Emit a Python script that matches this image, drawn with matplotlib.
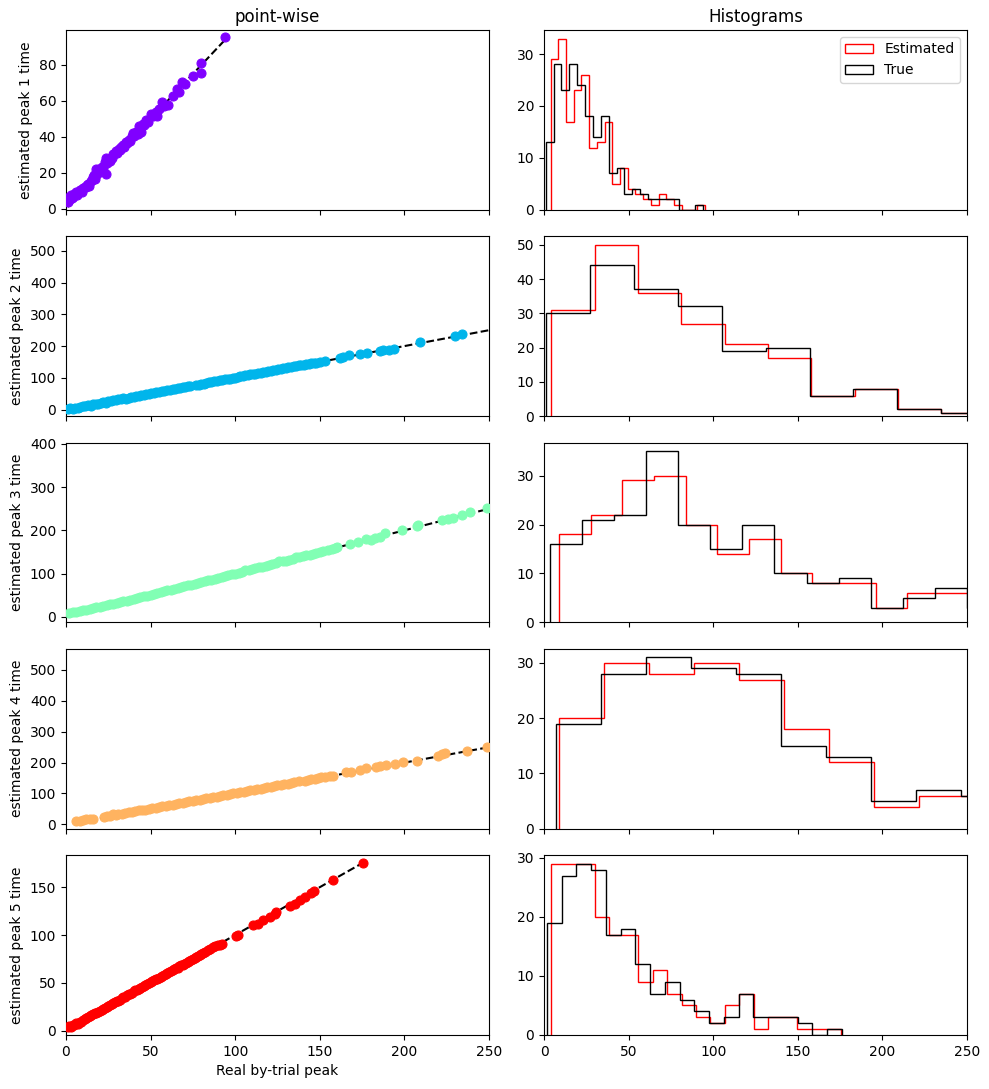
import numpy as np
import matplotlib
matplotlib.use("Agg")
import matplotlib.pyplot as plt

# ---------------- data ----------------
# scatter points (true peak, estimated peak) per peak
p1_points = [(1.0,3.8),(1.4,4.7),(2.0,6.5),(2.5,5.2),(3.0,7.4),(3.5,5.8),(4.2,6.3),(5.0,8.0),(5.9,9.3),(6.5,7.6),
             (7.3,8.8),(8.0,10.2),(8.9,10.2),(9.5,9.4),(10.3,11.6),(11.0,12.1),(11.8,12.1),(12.5,13.5),(13.2,14.0),(13.8,12.6),
             (14.5,15.2),(15.3,16.0),(16.0,17.5),(16.4,18.6),(17.0,16.8),(17.8,22.3),(18.5,19.5),(19.2,20.8),(19.7,22.3),(20.3,21.5),
             (21.0,23.2),(21.8,22.5),(22.9,26.0),(23.7,28.0),(23.7,19.2),(24.5,25.4),(25.3,27.8),(26.0,26.7),(27.2,28.0),(27.9,30.5),
             (28.6,30.7),(29.6,32.0),(30.4,31.2),(31.3,33.4),(32.0,32.6),(32.8,34.5),(33.5,35.3),(34.3,34.2),(35.5,37.2),(36.3,36.5),
             (37.0,38.4),(38.0,37.6),(38.9,40.6),(39.5,41.9),(40.5,40.3),(41.5,42.5),(42.3,41.8),(43.4,46.0),(44.4,42.8),(45.4,47.4),
             (46.3,46.5),(47.4,49.3),(48.5,48.2),(50.3,53.0),(51.5,51.5),(53.3,54.0),(53.9,51.5),(55.0,55.6),(56.8,59.2),(58.0,57.3),
             (60.2,58.0),(63.5,62.9),(65.7,66.4),(67.0,64.8),(68.7,70.7),(70.4,69.2),(75.0,73.9),(79.7,80.9),(79.7,75.3),(94.1,95.3)]

p2_points = [(1.4,3),(2.5,4.5),(4,2.5),(5.5,4),(7,6),(8.5,7.5),(10,12),(11.5,10),(13,14),(14.5,13),(16,17),(17.5,19),
             (19,18),(20.5,22),(22,24),(23.5,22),(25,27),(26.5,26),(28,30),(29.5,29),(31,33),(32.5,32),(34,36),(35.5,35),
             (37,38),(38.5,40),(40,41),(41.5,43),(43,44),(44.5,46),(46,47),(47.5,49),(49,48),(50.5,52),(52,53),(53.5,55),
             (55,56),(56.5,58),(58,59),(60,61),(61.5,63),(63,64),(64.5,66),(66,68),(67.5,69),(69,70),(70.5,72),(72,73),
             (73.5,75),(77,79),(78.5,76),(80,82),(81.5,81),(83,84),(84.5,86),(86,87),(87.5,89),(89,90),(91,93),(92.5,94),
             (94,95),(95.5,98),(97,98),(98.5,101),(100,101),(101.5,104),(103,105),(104.5,106),(106,108),(107.5,109),(109,111),
             (110.5,112),(112,113),(113.5,115),(115,116),(116.5,118),(118,120),(119.5,121),(121,123),(122.5,124),(124,125),
             (125.5,127),(127,128),(128.5,130),(130,132),(131.5,133),(133,134),(134.5,136),(136,137),(137.5,139),(139,141),
             (140.5,142),(142,143),(143.5,145),(145,146),(146.5,148),(148,147),(150,150),(153,152),(162,161),(164,166),
             (167,172),(174,175),(178,177),(185.5,185),(187.5,187),(191,189),(194,192),(209,212),(230,231),(234,238),(520,516)]

p3_points = [(2,8),(4,10),(5.9,11.5),(8,13),(10,14.5),(12,16),(14,18),(16,19.5),(17.8,21.5),(20,23),(22,25),(24,26.5),
             (26,28.5),(28,30),(30,32),(32,34),(34,35.5),(36,37.5),(38,39.5),(40,41.5),(42,43.5),(44,45),(46,47),(48,49),
             (50,51),(52,53),(54,55),(56,57),(58,59),(60,61),(62,63),(64,65),(66,67),(68,69),(70,70.5),(72,72.5),(74,74.5),
             (76,76.5),(78,78.5),(80,80.5),(82,82.5),(84,84.5),(86,86),(88,88),(90,90),(92,92),(94,94.5),(96,96),(98,98),
             (100,100),(102,102),(104,104),(106,108),(108,108),(110,110),(112,112),(114,114),(116,116),(118,118),(120,120),
             (122,122),(124,124),(126,128),(128,128),(130,130),(132,132),(134,134),(136,138),(138,138),(140,140),(142,142),
             (144,144),(146,146),(148,148),(150,150),(152,152),(155,155),(157,157),(159,159),(160,161),(167.7,167.4),
             (172.6,173.5),(177.6,180.4),(180,178),(182.5,182.7),(185.5,185),(188.4,194),(198.3,200.4),(207.2,209.6),
             (208,212),(222,223.4),(225.9,227),(229,228.8),(233.8,236.5),(238.8,241.8),(248.6,252.6),(260,262),(300,302),
             (383,384)]

p4_points = [(5.9,10.9),(8,11.5),(10,14),(11.8,16.3),(14,17),(15.8,18.5),(22.7,23.9),(24.5,27),(26,28),(27.6,32.6),
             (29.5,31),(31,34),(33,35),(35,37),(37,40),(39,41),(41,43),(43,45),(45,46),(47,48),(49,50),(51,53),(53,54),
             (55,56),(57,58),(59,60),(61,63),(63,64),(65,66),(67,68),(69,70),(71,72),(73,75),(75,76),(77,78),(79,80),
             (81,82),(83,84),(85,86),(87,88),(89,90),(91,92),(93,94),(95,96),(97,98),(99,100),(101,102),(103,104),
             (105,106),(107,108),(109,110),(111,112),(113,114),(115,116),(117,118),(119,120),(121,122),(123,124),
             (125,126),(127,128),(129,130),(131,132),(133,134),(135,136),(138,139),(141,142),(143,144),(145,146),
             (147,148),(149,150),(151,152),(153,153),(156,156),(157.9,157.6),(165.7,168.5),(168.7,170.7),(173.6,177),
             (177.6,181.5),(183.5,184.8),(185.5,190),(189.4,192.4),(194.4,195.7),(199.3,201),(207.2,206.5),(220,220.7),
             (222,227),(224,230.4),(236.8,239),(248.6,250),(270,272),(300,303),(350,352),(400,401),(539,541)]

p5_points = [(1,3.5),(2,5),(3,4),(4,6),(5,5.5),(6,8),(7,7.5),(8,9.5),(9,9),(10,11),(11,12),(12,13),(13,14),(14,15),
             (15,16),(16,17),(17,18),(18,19),(19,20),(20,21),(21,22),(22,23),(23,24),(24,25),(25,26),(26,27),(27,28),
             (28,29),(29,30),(30,31),(31,31.5),(32,32.5),(33,34),(34,35),(35,35.5),(36,37),(37,38),(38,38.5),(39,39.5),
             (40,41),(41,42),(42,43),(43,44),(44,44.5),(45,45.5),(46,47),(47,48),(48,48.5),(49,49.5),(50,50.5),(51,51.5),
             (52,52.5),(53,53.5),(54,54.5),(55,55.5),(56,56.5),(57,57.5),(58,58),(59,59),(60,60),(61,61),(62,62),(63,63),
             (64,64),(65,65),(66,66),(67,67.5),(68,68.5),(69,69),(70,70),(71,71),(72,72),(73,73),(74,74),(75,75),(76,76),
             (77,77),(78,78.5),(79,79.5),(80,80.5),(81,81),(82,82),(84,84),(85,85),(87,87),(88,88),(90,89.5),(91,90),
             (92,91),(100.2,98.7),(101.6,99.8),(110.5,110.2),(113.5,112),(116.4,115.5),(120.4,118.9),(123.3,122.4),
             (124.3,124.2),(132.2,130),(135.2,132.9),(138.1,137),(141,139.9),(144.9,144),(146.4,145.8),(157.9,157.3),
             (175.6,175.4)]

# histogram ranges (20 bins each) and counts
true_ranges = [(1.0, 94.0), (1.38, 520.0), (3.35, 382.8), (7.29, 539.3), (1.77, 176.0)]
est_ranges = [(3.94, 95.0), (4.33, 516.3), (8.87, 383.3), (8.87, 540.9), (4.33, 175.3)]

true_counts = [
    [13, 28, 23, 28, 24, 18, 14, 18, 7, 8, 3, 4, 3, 2, 2, 2, 2, 0, 0, 1],
    [30, 44, 37, 32, 19, 20, 6, 8, 2, 1, 0, 0, 0, 0, 0, 0, 0, 0, 0, 1],
    [16, 21, 22, 35, 20, 15, 20, 10, 8, 9, 3, 5, 7, 3, 2, 1, 1, 1, 0, 1],
    [19, 28, 31, 29, 28, 15, 13, 5, 7, 6, 5, 4, 3, 2, 2, 1, 1, 0, 0, 1],
    [19, 27, 29, 28, 17, 18, 12, 7, 9, 6, 4, 2, 3, 7, 3, 3, 3, 2, 0, 1],
]
est_counts = [
    [29, 33, 17, 23, 26, 12, 13, 17, 5, 8, 4, 3, 2, 1, 3, 2, 1, 0, 0, 1],
    [31, 50, 36, 27, 21, 17, 6, 8, 2, 1, 0, 0, 0, 0, 0, 0, 0, 0, 0, 1],
    [18, 22, 29, 30, 20, 14, 17, 10, 8, 8, 3, 6, 6, 3, 2, 1, 1, 1, 0, 1],
    [20, 30, 28, 30, 27, 18, 12, 4, 6, 6, 5, 4, 3, 2, 2, 1, 1, 0, 0, 1],
    [29, 29, 29, 20, 17, 17, 9, 11, 7, 5, 3, 2, 5, 7, 1, 3, 3, 1, 1, 1],
]

scatter_ylims = [(-0.56, 99.5), (-20.3, 545.6), (-13.1, 403.2), (-14.0, 568.5), (-4.5, 183.5)]
all_points = [p1_points, p2_points, p3_points, p4_points, p5_points]

# ---------------- plot ----------------
fig, axes = plt.subplots(5, 2, sharex=True, figsize=(9.89, 10.89), dpi=100)
fig.subplots_adjust(left=0.0667, right=0.9778, top=0.9725, bottom=0.0496,
                    wspace=0.13, hspace=0.147)
colors = plt.cm.rainbow(np.linspace(0, 1, 5))

for i in range(5):
    axl, axr = axes[i, 0], axes[i, 1]
    pts = np.array(all_points[i])
    lo, hi = true_ranges[i]
    axl.plot([lo, hi], [lo, hi], 'k--', zorder=2)
    axl.scatter(pts[:, 0], pts[:, 1], color=colors[i], s=42, linewidths=0.8, zorder=3)
    axl.set_ylim(*scatter_ylims[i])
    axl.set_ylabel(f"estimated peak {i + 1} time")

    e_edges = np.linspace(*est_ranges[i], 21)
    t_edges = np.linspace(*true_ranges[i], 21)
    axr.hist((e_edges[:-1] + e_edges[1:]) / 2, bins=e_edges, weights=est_counts[i],
             histtype='step', color='red', label='Estimated')
    axr.hist((t_edges[:-1] + t_edges[1:]) / 2, bins=t_edges, weights=true_counts[i],
             histtype='step', color='black', label='True')

axes[0, 0].set_xlim(0, 250)
axes[0, 0].set_title("point-wise")
axes[0, 1].set_title("Histograms")
axes[0, 1].legend(loc='upper right')
axes[4, 0].set_xlabel("Real by-trial peak")

fig.savefig("out.png", dpi=100)
